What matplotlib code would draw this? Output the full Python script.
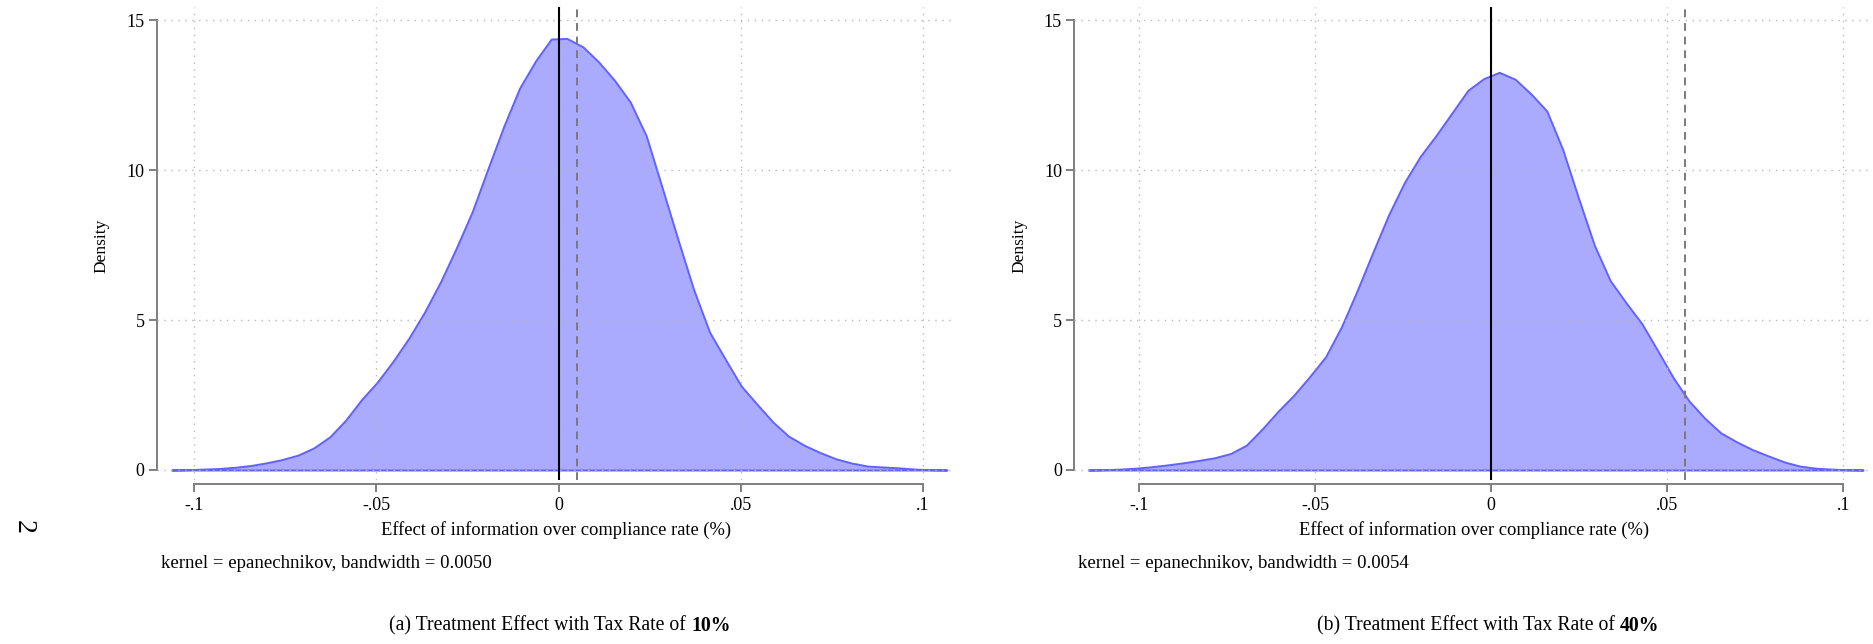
import numpy as np
import matplotlib
matplotlib.use("Agg")
import matplotlib.pyplot as plt

plt.rcParams["font.family"] = ["Liberation Serif", "DejaVu Serif"]

# kernel density, tax rate 10%
x10 = [-0.1063, -0.1020, -0.0976, -0.0933, -0.0889, -0.0846, -0.0802, -0.0759, -0.0715, -0.0672,
       -0.0628, -0.0585, -0.0541, -0.0498, -0.0455, -0.0411, -0.0368, -0.0324, -0.0281, -0.0237,
       -0.0194, -0.0150, -0.0107, -0.0063, -0.0020, 0.0023, 0.0067, 0.0110, 0.0154, 0.0197,
       0.0241, 0.0284, 0.0328, 0.0371, 0.0415, 0.0458, 0.0502, 0.0545, 0.0589, 0.0632,
       0.0676, 0.0719, 0.0763, 0.0806, 0.0850, 0.0893, 0.0937, 0.0980, 0.1024, 0.1067]
dens10 = [0.0, 0.01, 0.03, 0.05, 0.09, 0.15, 0.24, 0.35, 0.50, 0.74,
          1.11, 1.66, 2.35, 2.93, 3.62, 4.40, 5.27, 6.28, 7.40, 8.62,
          10.05, 11.48, 12.74, 13.65, 14.38, 14.40, 14.12, 13.62, 13.00, 12.28,
          11.15, 9.45, 7.70, 6.03, 4.60, 3.70, 2.80, 2.20, 1.60, 1.13,
          0.82, 0.58, 0.37, 0.23, 0.13, 0.10, 0.07, 0.03, 0.01, 0.0]

# tax rate 40%
x40 = [-0.1144, -0.1099, -0.1054, -0.1009, -0.0964, -0.0919, -0.0874, -0.0830, -0.0785, -0.0740,
       -0.0695, -0.0650, -0.0605, -0.0560, -0.0515, -0.0470, -0.0425, -0.0381, -0.0336, -0.0291,
       -0.0246, -0.0201, -0.0156, -0.0111, -0.0066, -0.0021, 0.0023, 0.0068, 0.0113, 0.0158,
       0.0203, 0.0248, 0.0293, 0.0338, 0.0383, 0.0428, 0.0472, 0.0517, 0.0562, 0.0607,
       0.0652, 0.0697, 0.0742, 0.0787, 0.0832, 0.0877, 0.0922, 0.0966, 0.1011, 0.1056]
dens40 = [0.0, 0.01, 0.03, 0.06, 0.11, 0.17, 0.24, 0.32, 0.41, 0.55,
          0.83, 1.37, 1.96, 2.50, 3.12, 3.78, 4.78, 5.97, 7.26, 8.52,
          9.60, 10.47, 11.17, 11.92, 12.67, 13.06, 13.27, 13.04, 12.55, 11.98,
          10.70, 9.07, 7.50, 6.32, 5.58, 4.88, 4.00, 3.08, 2.30, 1.72,
          1.24, 0.94, 0.68, 0.47, 0.27, 0.13, 0.06, 0.03, 0.01, 0.0]

xticks = [-0.1, -0.05, 0, 0.05, 0.1]
xticklabels = ["-.1", "-.05", "0", ".05", ".1"]
yticks = [0, 5, 10, 15]
mean_line = [0.005, 0.055]
bandwidths = ["0.0050", "0.0054"]
rates = ["10%", "40%"]
letters = ["(a)", "(b)"]

W, H = 1874, 644
fig = plt.figure(figsize=(W / 100, H / 100), dpi=100)

def px_rect(l, r, t, b):
    return [l / W, (H - b) / H, (r - l) / W, (b - t) / H]

panels = [
    dict(x=x10, y=dens10, l=157, r=956, xlim=(-0.1103, 0.1092)),
    dict(x=x40, y=dens40, l=1074.5, r=1874, xlim=(-0.1183, 0.1087)),
]
top, bot = 7, 480
axcol = "#7f7f7f"

for i, p in enumerate(panels):
    ax = fig.add_axes(px_rect(p["l"], p["r"], top, bot))
    ax.fill_between(p["x"], p["y"], 0, facecolor="#aaaaff", edgecolor="#6262ff", lw=1.4, zorder=1)
    ax.axvline(0, color="black", lw=1.5, zorder=3)
    ax.axvline(mean_line[i], color="#7a7a7a", lw=1.4, ls=(0, (4, 3)), zorder=3)
    ax.set_xlim(*p["xlim"])
    ax.set_ylim((470 - bot) / 29.97, (470 - top) / 29.97)
    ax.set_xticks(xticks)
    ax.set_xticklabels(xticklabels)
    ax.set_yticks(yticks)
    ax.set_axisbelow(False)
    ax.grid(True, color="#b8b8b8", lw=1.0, ls=(0, (1, 4)))
    for s in ["top", "right"]:
        ax.spines[s].set_visible(False)
    ax.spines["left"].set_bounds(0, 15)
    ax.spines["bottom"].set_bounds(-0.1, 0.1)
    ax.spines["bottom"].set_position(("outward", 3))
    for s in ["left", "bottom"]:
        ax.spines[s].set_color(axcol)
        ax.spines[s].set_linewidth(1.4)
    ax.tick_params(axis="both", color=axcol, width=1.4, length=6, labelsize=13, pad=3)
    ax.set_ylabel("Density", fontsize=12.5)
    ax.yaxis.set_label_coords(-0.059, (bot - 246) / (bot - top))
    cx = (p["l"] + p["r"]) / 2
    fig.text(cx / W, 1 - 530 / H, "Effect of information over compliance rate (%)",
             ha="center", va="center", fontsize=13.3)
    fig.text((p["l"] + 4) / W, 1 - 563 / H,
             "kernel = epanechnikov, bandwidth = " + bandwidths[i],
             ha="left", va="center", fontsize=13.5)

fig.canvas.draw()
renderer = fig.canvas.get_renderer()
cap_centers = [560, 1488]
for i in range(2):
    t1 = fig.text(0, 1 - 626 / H, letters[i] + " Treatment Effect with Tax Rate of ",
                  ha="left", va="center", fontsize=14.2)
    t2 = fig.text(0, 1 - 626 / H, rates[i], ha="left", va="center", fontsize=14.2, fontweight="bold")
    w1 = t1.get_window_extent(renderer).width
    w2 = t2.get_window_extent(renderer).width
    x0 = cap_centers[i] - (w1 + w2) / 2
    t1.set_x(x0 / W)
    t2.set_x((x0 + w1) / W)

fig.text(23 / W, 1 - 527 / H, "2", rotation=-90, ha="center", va="center", fontsize=20)

fig.savefig("out.png", dpi=100)
